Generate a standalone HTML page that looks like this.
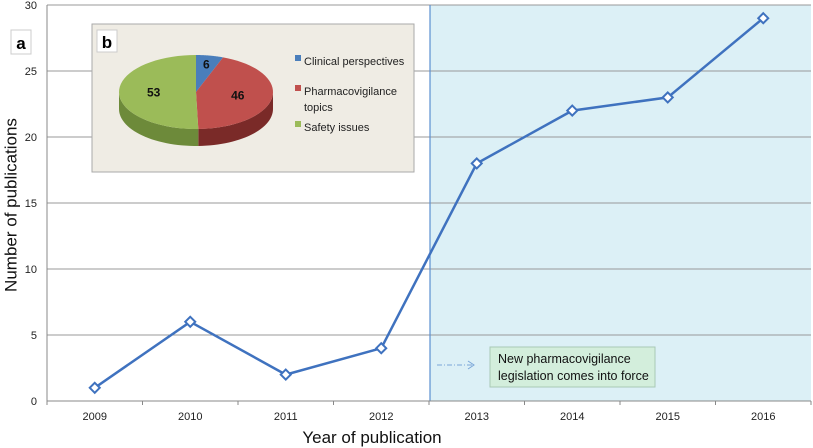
<!DOCTYPE html>
<html><head><meta charset="utf-8"><style>
body{margin:0;background:#fff;}
svg{display:block;font-family:"Liberation Sans",sans-serif;}
</style></head><body>
<svg id="c" width="813" height="448" viewBox="0 0 813 448">
<rect x="430" y="5" width="381" height="396" fill="#dcf0f6"/>
<g id="grid"></g>
<line x1="430" y1="5" x2="430" y2="401" stroke="#5b8fd0" stroke-width="1.2"/>
<line x1="47" y1="5" x2="47" y2="401" stroke="#888"/>
<line x1="47" y1="401" x2="811" y2="401" stroke="#888"/>
<g id="ticks"></g>
<g id="series"></g>
<text x="12" y="205" transform="rotate(-90 12 205)" text-anchor="middle" dominant-baseline="middle" font-size="17" fill="#111">Number of publications</text>
<text x="372" y="443" text-anchor="middle" font-size="17" fill="#111">Year of publication</text>
<rect x="11" y="30" width="20" height="24" fill="#fff" stroke="#ccc"/>
<text x="21" y="49" text-anchor="middle" font-size="17" font-weight="bold">a</text>
<line x1="437" y1="365" x2="472" y2="365" stroke="#7aa6d8" stroke-dasharray="5,2,1,2"/>
<path d="M468 361 L474 365 L468 369" fill="none" stroke="#7aa6d8"/>
<rect x="490" y="347" width="165" height="40" fill="#d3eedc" stroke="#a9c9b5"/>
<text x="498" y="363" font-size="12.5" fill="#111">New pharmacovigilance</text>
<text x="498" y="380" font-size="12.5" fill="#111">legislation comes into force</text>
<g>
<rect x="92" y="24" width="322" height="148" fill="#efece4" stroke="#aaa"/>
<rect x="97" y="30" width="20" height="22" fill="#fff" stroke="#ccc"/>
<text x="107" y="48" text-anchor="middle" font-size="17" font-weight="bold">b</text>
<g id="pie"></g>
<g id="legend"></g>
</g>
</svg>
<script>
const years=["2009","2010","2011","2012","2013","2014","2015","2016"];
const counts=[1,6,2,4,18,22,23,29];
const yTicks=[0,5,10,15,20,25,30];
const pieLabels=["Clinical perspectives","Pharmacovigilance topics","Safety issues"];
const pieValues=[6,46,53];
const pieColors=["#4a7ebb","#c0504d","#9bbb59"];
const pieSides=["#2f5585","#7a2a28","#6d8a3a"];
const NS="http://www.w3.org/2000/svg";
const L=47,R=811,T=5,B=401,yMax=30;
const bw=(R-L)/years.length;
const xs=i=>L+bw*(i+0.5);
const ys=v=>B-(v/yMax)*(B-T);
function mk(tag,attrs,parent,text){const e=document.createElementNS(NS,tag);for(const k in attrs)e.setAttribute(k,attrs[k]);if(text!==undefined)e.textContent=text;parent.appendChild(e);return e;}
const grid=document.getElementById('grid'),ticks=document.getElementById('ticks'),series=document.getElementById('series');
yTicks.forEach(v=>{
 if(v>0){const g=mk('line',{x1:L,x2:R,y1:ys(v),y2:ys(v),stroke:'#999'},grid);
 
 }
 const t=mk('text',{x:37,y:ys(v)+4,'text-anchor':'end','font-size':11,fill:'#222'},ticks,String(v));
 
 
});
for(let i=0;i<=years.length;i++){const tk=mk('line',{x1:L+bw*i,x2:L+bw*i,y1:B,y2:B+4,stroke:'#888'},ticks);
 
 }
years.forEach((y,i)=>{const t=mk('text',{x:xs(i),y:420,'text-anchor':'middle','font-size':11,fill:'#222'},ticks,y);
 
 });
const line=mk('polyline',{points:counts.map((v,i)=>xs(i)+','+ys(v)).join(' '),fill:'none',stroke:'#3f72bf','stroke-width':2.5},series);


counts.forEach((v,i)=>{const x=xs(i),y=ys(v);
 const m=mk('path',{d:`M${x} ${y-5} L${x+5} ${y} L${x} ${y+5} L${x-5} ${y} Z`,fill:'#fff',stroke:'#3f72bf','stroke-width':2},series);
 
 });
// pie
const pie=document.getElementById('pie');
const cx=196,cy=92,rx=77,ry=37,dep=17;
const tot=pieValues.reduce((a,b)=>a+b,0);
const pt=(a,dy)=>[cx+rx*Math.sin(a),cy-ry*Math.cos(a)+(dy||0)];
let acc=0;const angs=pieValues.map(v=>{const s=acc/tot*2*Math.PI;acc+=v;return [s,acc/tot*2*Math.PI];});
// sides (front half: angles PI/2..3PI/2)
angs.forEach(([s,e],i)=>{const a0=Math.max(s,Math.PI/2),a1=Math.min(e,3*Math.PI/2);if(a1<=a0)return;
 let d='';const n=30;for(let k=0;k<=n;k++){const p=pt(a0+(a1-a0)*k/n);d+=(k?'L':'M')+p[0]+' '+p[1];}
 for(let k=n;k>=0;k--){const p=pt(a0+(a1-a0)*k/n,dep);d+='L'+p[0]+' '+p[1];}
 const sd=mk('path',{d:d+'Z',fill:pieSides[i]},pie);
 
 });
angs.forEach(([s,e],i)=>{let d='M'+cx+' '+cy;const n=40;for(let k=0;k<=n;k++){const p=pt(s+(e-s)*k/n);d+='L'+p[0]+' '+p[1];}
 const sl=mk('path',{d:d+'Z',fill:pieColors[i]},pie);
 
 
 const m=(s+e)/2;const r=i===0?0.75:0.55;
 const t=mk('text',{x:cx+rx*r*Math.sin(m),y:cy-ry*r*Math.cos(m)+4,'text-anchor':'middle','font-size':12,'font-weight':'bold',fill:'#111'},pie,String(pieValues[i]));
 
 });
const lg=document.getElementById('legend');
const lgY=[[62],[92,108],[128]];
pieLabels.forEach((lab,i)=>{const r=mk('rect',{x:295,y:lgY[i][0]-7,width:6,height:6,fill:pieColors[i]},lg);
 
 
 const parts=i===1?['Pharmacovigilance','topics']:[lab];
 parts.forEach((p,j)=>{const t=mk('text',{x:304,y:lgY[i][j]+3,'font-size':11,fill:'#222'},lg,p);
 
 });});
</script>
</body></html>
